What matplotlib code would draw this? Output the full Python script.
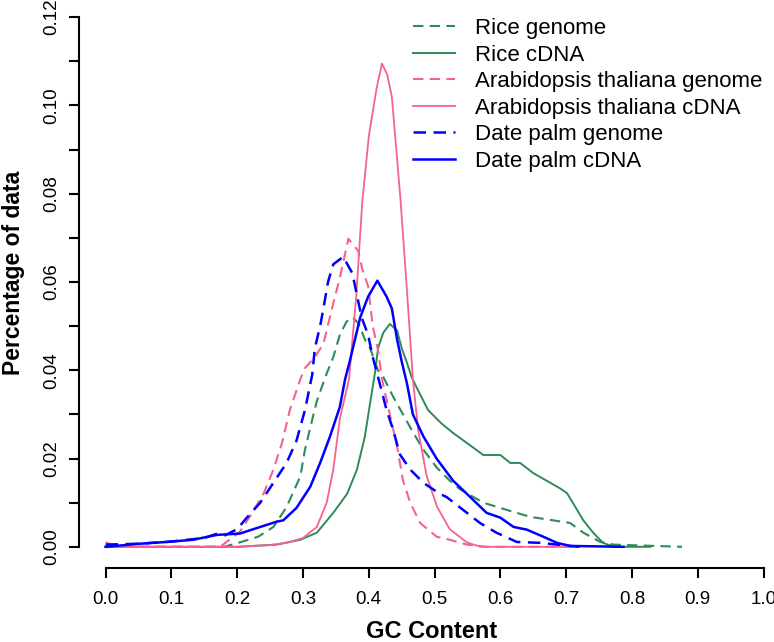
import matplotlib
matplotlib.use("Agg")
import matplotlib.pyplot as plt

plt.rcParams['font.family'] = ['Liberation Sans', 'DejaVu Sans']

# ---- data ----
rice_cdna_x = [0.0, 0.1, 0.2, 0.26, 0.296, 0.321, 0.346, 0.367, 0.382, 0.394, 0.402, 0.41,
               0.414, 0.422, 0.432, 0.443, 0.45, 0.458, 0.465, 0.473, 0.49, 0.51, 0.528, 0.554,
               0.574, 0.6, 0.615, 0.63, 0.65, 0.67, 0.69, 0.701, 0.71, 0.726, 0.741, 0.756,
               0.772, 0.828]
rice_cdna_y = [0, 0, 0, 0.0005, 0.0016, 0.0032, 0.0077, 0.012, 0.0175, 0.025, 0.0326, 0.040,
               0.045, 0.0485, 0.0505, 0.049, 0.045, 0.0417, 0.0385, 0.036, 0.031, 0.028, 0.0258,
               0.023, 0.0208, 0.0208, 0.019, 0.019, 0.0167, 0.015, 0.0133, 0.0122, 0.010, 0.006,
               0.0032, 0.0009, 0, 0]

rice_genome_x = [0.0, 0.1, 0.18, 0.204, 0.232, 0.255, 0.275, 0.296, 0.303, 0.311, 0.321, 0.334,
                 0.346, 0.356, 0.366, 0.375, 0.384, 0.394, 0.402, 0.414, 0.422, 0.437, 0.452,
                 0.467, 0.483, 0.503, 0.523, 0.539, 0.574, 0.609, 0.645, 0.68, 0.706, 0.726,
                 0.752, 0.772, 0.876]
rice_genome_y = [0, 0, 0, 0.001, 0.0023, 0.0045, 0.009, 0.016, 0.022, 0.027, 0.033, 0.0385,
                 0.043, 0.048, 0.051, 0.052, 0.0507, 0.047, 0.045, 0.040, 0.0385, 0.034, 0.030,
                 0.026, 0.022, 0.018, 0.015, 0.013, 0.010, 0.0084, 0.0068, 0.006, 0.0054, 0.0032,
                 0.0011, 0.0005, 0]

ara_cdna_x = [0.0, 0.1, 0.2, 0.25, 0.275, 0.30, 0.321, 0.336, 0.346, 0.356, 0.37, 0.381, 0.39,
              0.40, 0.412, 0.42, 0.428, 0.435, 0.448, 0.458, 0.467, 0.475, 0.488, 0.504, 0.523,
              0.549, 0.57, 0.70]
ara_cdna_y = [0, 0, 0, 0.0004, 0.0009, 0.002, 0.0045, 0.010, 0.0175, 0.029, 0.038, 0.057,
              0.078, 0.093, 0.104, 0.1095, 0.107, 0.102, 0.079, 0.058, 0.038, 0.0265, 0.016,
              0.009, 0.004, 0.001, 0, 0]

ara_genome_x = [0.0, 0.02, 0.1, 0.174, 0.204, 0.219, 0.24, 0.255, 0.268, 0.28, 0.296, 0.303,
                0.318, 0.331, 0.344, 0.356, 0.369, 0.376, 0.384, 0.39, 0.399, 0.406, 0.414, 0.42,
                0.432, 0.443, 0.452, 0.463, 0.478, 0.503, 0.523, 0.549, 0.58, 0.72]
ara_genome_y = [0.001, 0, 0, 0, 0.0034, 0.0068, 0.012, 0.0175, 0.0235, 0.031, 0.038, 0.0405,
                0.043, 0.046, 0.054, 0.061, 0.0698, 0.0685, 0.067, 0.063, 0.059, 0.050, 0.0446,
                0.038, 0.030, 0.0227, 0.015, 0.010, 0.0054, 0.0023, 0.0016, 0.0005, 0, 0]

palm_genome_x = [0.0, 0.05, 0.1, 0.15, 0.17, 0.18, 0.2, 0.214, 0.235, 0.255, 0.275, 0.29, 0.303,
                 0.314, 0.318, 0.326, 0.331, 0.338, 0.346, 0.361, 0.375, 0.382, 0.389, 0.399,
                 0.406, 0.414, 0.427, 0.437, 0.447, 0.463, 0.483, 0.508, 0.518, 0.543, 0.569,
                 0.594, 0.625, 0.66, 0.686, 0.72]
palm_genome_y = [0.0005, 0.0007, 0.0012, 0.002, 0.003, 0.0025, 0.004, 0.0065, 0.010, 0.0145,
                 0.019, 0.024, 0.031, 0.039, 0.045, 0.050, 0.054, 0.060, 0.064, 0.0657, 0.062,
                 0.057, 0.052, 0.048, 0.043, 0.0385, 0.031, 0.0265, 0.021, 0.0175, 0.0145, 0.012,
                 0.0113, 0.0084, 0.0054, 0.0032, 0.0011, 0.0009, 0.0005, 0]

palm_cdna_x = [0.0, 0.052, 0.093, 0.133, 0.169, 0.204, 0.235, 0.26, 0.27, 0.29, 0.311, 0.326,
               0.341, 0.356, 0.364, 0.371, 0.379, 0.387, 0.399, 0.413, 0.427, 0.435, 0.443, 0.45,
               0.458, 0.467, 0.483, 0.503, 0.528, 0.554, 0.579, 0.6, 0.62, 0.64, 0.665, 0.686,
               0.706, 0.787]
palm_cdna_y = [0, 0.0007, 0.0011, 0.0016, 0.0027, 0.003, 0.0045, 0.0057, 0.006, 0.0088, 0.0136,
               0.019, 0.025, 0.0317, 0.038, 0.042, 0.047, 0.052, 0.0567, 0.0603, 0.0567, 0.054,
               0.047, 0.042, 0.037, 0.030, 0.025, 0.020, 0.015, 0.0113, 0.0077, 0.0066, 0.0045,
               0.0039, 0.0023, 0.0009, 0.0002, 0]

x_ticks = [0.0, 0.1, 0.2, 0.3, 0.4, 0.5, 0.6, 0.7, 0.8, 0.9, 1.0]
y_ticks = [0.00, 0.01, 0.02, 0.03, 0.04, 0.05, 0.06, 0.07, 0.08, 0.09, 0.10, 0.11, 0.12]

green = '#2e8b57'
pink = '#f5628f'
blue = '#0000ff'
dash = (0, (5, 3))

fig = plt.figure(figsize=(7.74, 6.42), dpi=100)
# R style: usr range padded 4% around 0..1 and 0..0.12
ax = fig.add_axes([79.3 / 774, 74 / 642, 710.6 / 774, 572 / 642])

ax.plot(rice_genome_x, rice_genome_y, color=green, lw=1.5, ls=dash, label='Rice genome')
ax.plot(rice_cdna_x, rice_cdna_y, color=green, lw=1.4, label='Rice cDNA')
ax.plot(ara_genome_x, ara_genome_y, color=pink, lw=1.5, ls=dash, label='Arabidopsis thaliana genome')
ax.plot(ara_cdna_x, ara_cdna_y, color=pink, lw=1.3, label='Arabidopsis thaliana cDNA')
ax.plot(palm_genome_x, palm_genome_y, color=blue, lw=1.8, ls=dash, label='Date palm genome')
ax.plot(palm_cdna_x, palm_cdna_y, color=blue, lw=1.8, label='Date palm cDNA')

ax.set_xlim(-0.04, 1.04)
ax.set_ylim(-0.0048, 0.1248)

for s in ['top', 'right']:
    ax.spines[s].set_visible(False)
ax.spines['left'].set_bounds(0, 0.12)
ax.spines['bottom'].set_bounds(0, 1)
for s in ['left', 'bottom']:
    ax.spines[s].set_linewidth(1.5)

ax.set_xticks(x_ticks)
ax.set_xticklabels([f'{v:.1f}' for v in x_ticks])
ax.set_yticks(y_ticks)
ax.set_yticklabels([f'{v:.2f}' if i % 2 == 0 else '' for i, v in enumerate(y_ticks)],
                   rotation=90, va='center')
ax.tick_params(axis='both', length=7.5, width=1.5, labelsize=13.5)
ax.tick_params(axis='x', pad=9)
ax.tick_params(axis='y', pad=6.5)

fig.text(432 / 774, 1 - 632 / 642, 'GC Content', fontsize=17, fontweight='bold',
         ha='center', va='center')
fig.text(14 / 774, 1 - 273 / 642, 'Percentage of data', fontsize=16.5, fontweight='bold',
         rotation=90, ha='center', va='center')

ax.legend(loc='upper left', bbox_to_anchor=(413 / 774, 1 - 18 / 642),
          bbox_transform=fig.transFigure, frameon=False, fontsize=16,
          borderpad=0, borderaxespad=0, handlelength=1.9, handletextpad=0.9,
          labelspacing=0.25)

fig.savefig('out.png', dpi=100)
